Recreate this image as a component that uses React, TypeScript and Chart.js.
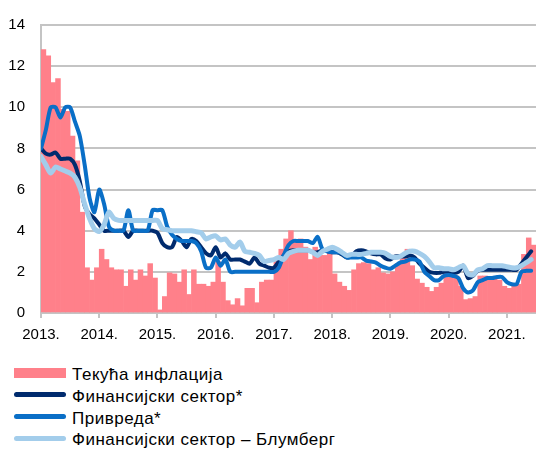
import React, { useEffect, useRef } from 'react';
import { Chart, registerables } from 'chart.js';

Chart.register(...registerables);

const yearLabels = ['2013.', '2014.', '2015.', '2016.', '2017.', '2018.', '2019.', '2020.', '2021.'];
const yTicks = [0, 2, 4, 6, 8, 10, 12, 14];

const seriesNames = [
  'Текућа инфлација',
  'Финансијски сектор*',
  'Привреда*',
  'Финансијски сектор – Блумберг',
];

// monthly, Jan 2013 – Jun 2021
const inflation = [
  12.8, 12.5, 11.2, 11.4, 9.9, 9.8, 8.6, 7.4, 4.9, 2.2, 1.6, 2.2,
  3.1, 2.6, 2.2, 2.1, 2.1, 1.3, 2.1, 1.6, 2.1, 1.8, 2.4, 1.7,
  0.15, 0.8, 1.95, 1.9, 1.5, 2.1, 0.9, 2.1, 1.4, 1.4, 1.3, 1.5,
  2.5, 1.5, 0.6, 0.4, 0.7, 0.35, 1.2, 1.2, 0.5, 1.5, 1.6, 1.6,
  2.6, 3.1, 3.6, 4.0, 3.5, 3.6, 3.2, 2.6, 3.2, 2.8, 2.8, 2.9,
  1.9, 1.5, 1.3, 1.1, 2.1, 2.4, 2.45, 2.4, 2.1, 2.2, 1.95, 1.9,
  2.0, 2.4, 2.8, 3.1, 2.3, 1.65, 1.45, 1.25, 1.05, 1.25, 1.45, 1.95,
  1.9, 1.8, 1.3, 0.65, 0.7, 0.8, 1.8, 1.8, 1.7, 1.75, 1.6, 1.3,
  1.2, 1.4, 1.4, 2.85, 3.65, 3.3,
];

const finSector = [
  8.0, 7.75, 7.7, 7.8, 7.5, 7.5, 7.5, 7.2, 6.4, 5.2, 4.8, 4.6,
  4.3, 4.0, 4.0, 4.0, 4.0, 4.0, 3.7, 4.0, 4.0, 4.0, 4.0, 4.0,
  3.9, 3.4, 3.2, 3.2, 3.7, 3.5, 3.2, 3.6, 3.5, 3.2, 2.9, 2.8,
  3.2, 2.7, 2.9, 2.6, 2.6, 2.6, 2.5, 2.4, 2.7, 2.4, 2.3, 2.2,
  2.2, 2.5, 2.8, 3.0, 3.05, 3.05, 3.05, 3.05, 2.95, 2.95, 3.05, 3.0,
  2.95, 2.95, 2.85, 2.7, 2.75, 3.0, 3.05, 3.0, 2.9, 2.85, 2.85, 2.65,
  2.6, 2.75, 2.75, 2.75, 2.8, 2.7, 2.4, 2.2, 2.0, 1.95, 1.95, 2.0,
  2.0, 1.95, 2.0, 2.3, 1.7, 1.8, 2.05, 2.1, 2.1, 2.1, 2.1, 2.1,
  2.1, 2.1, 2.1, 2.4, 2.7, 3.0,
];

const economy = [
  8.0, 8.9, 10.0, 10.0, 9.5, 10.0, 10.0, 9.3, 8.6, 7.2, 5.6, 4.9,
  6.0, 5.3, 4.2, 4.0, 4.0, 4.0, 5.0, 4.0, 4.0, 4.0, 4.0, 5.0,
  5.0, 5.0, 4.2, 3.8, 3.6, 3.5, 3.5, 3.5, 3.4, 3.0, 2.2, 2.2,
  2.7, 2.3, 2.6, 2.0, 2.0, 2.0, 2.0, 2.0, 2.0, 2.0, 2.0, 2.0,
  2.0, 2.2, 2.8, 3.3, 3.5, 3.5, 3.5, 3.5, 3.4, 3.7, 3.1, 3.0,
  2.95, 2.95, 2.9, 2.7, 2.7, 2.7, 2.7, 2.55, 2.5, 2.45, 2.3, 2.2,
  2.15, 2.3, 2.45, 2.5, 2.6, 2.6, 2.5, 2.0, 1.8, 1.6, 1.6, 1.8,
  1.85, 1.8, 1.7, 1.2, 1.0, 1.1, 1.5, 1.6, 1.7, 1.7, 1.75, 1.75,
  1.5, 1.4, 1.4, 2.0, 2.05, 2.05,
];

const bloomberg = [
  7.6, 7.2, 6.8, 7.1, 7.0, 6.9, 6.8, 6.6, 6.1, 5.3, 4.6, 4.1,
  3.96, 4.3, 4.9, 4.6, 4.5, 4.5, 4.5, 4.5, 4.5, 4.5, 4.5, 4.5,
  4.5, 4.1, 4.05, 4.0, 4.0, 4.0, 4.0, 4.0, 3.95, 3.9, 3.6, 3.7,
  3.75, 3.55, 3.6, 3.3, 3.2, 3.45, 3.0, 2.95, 2.9, 2.8, 2.5, 2.55,
  2.6, 2.7, 2.6, 2.9, 3.0, 3.05, 3.05, 3.05, 2.95, 2.8, 3.0, 3.1,
  3.2, 3.1, 2.95, 2.8, 2.85, 2.85, 2.85, 2.9, 2.95, 2.95, 2.95, 2.9,
  2.75, 2.7, 2.75, 2.9, 3.0, 3.0, 2.9, 2.75, 2.5, 2.2, 2.2, 2.15,
  2.15, 2.1, 2.2, 2.3, 1.9, 1.85, 2.1, 2.15, 2.3, 2.3, 2.3, 2.3,
  2.25, 2.2, 2.2, 2.3, 2.45, 2.6,
];

const PINK = '#FF808A';
const NAVY = '#002B6E';
const MID = '#0A6FC7';
const LIGHT = '#A3CDEB';
const GRID = '#C4C4C4';
const FONT = "'Liberation Sans', Arial, sans-serif";

const legendItems = [
  { name: seriesNames[0], color: PINK, h: 10, r: 0 },
  { name: seriesNames[1], color: NAVY, h: 5, r: 3 },
  { name: seriesNames[2], color: MID, h: 5, r: 3 },
  { name: seriesNames[3], color: LIGHT, h: 5, r: 3 },
];

export default function App() {
  const ref = useRef<HTMLCanvasElement>(null);

  useEffect(() => {
    const canvas = ref.current;
    if (!canvas) return;
    const pts = (arr: number[], off: number) => arr.map((v, i) => ({ x: i + off, y: v }));
    const lineDs = (label: string, arr: number[], color: string, width: number, order: number) => ({
      type: 'line' as const,
      label,
      data: pts(arr, 0),
      borderColor: color,
      backgroundColor: color,
      borderWidth: width,
      pointRadius: 0,
      tension: 0.25,
      borderJoinStyle: 'round' as const,
      borderCapStyle: 'round' as const,
      order,
    });
    const chart = new Chart(canvas, {
      type: 'line',
      data: {
        datasets: [
          {
            type: 'bar',
            label: seriesNames[0],
            data: pts(inflation, 0.5),
            backgroundColor: PINK,
            borderWidth: 0,
            barPercentage: 1,
            categoryPercentage: 1,
            order: 4,
          } as any,
          lineDs(seriesNames[1], finSector, NAVY, 4, 3),
          lineDs(seriesNames[2], economy, MID, 4, 2),
          lineDs(seriesNames[3], bloomberg, LIGHT, 5, 1),
        ],
      },
      options: {
        responsive: false,
        animation: false,
        layout: { padding: { top: 18, right: 0, left: 0, bottom: 0 } },
        plugins: { legend: { display: false }, tooltip: { enabled: false } },
        scales: {
          x: {
            type: 'linear',
            min: 0,
            max: inflation.length,
            offset: false,
            afterBuildTicks: (s: any) => {
              s.ticks = yearLabels.map((_, k) => ({ value: k * 12 }));
            },
            afterFit: (s: any) => {
              s.height = 32;
            },
            ticks: {
              autoSkip: false,
              maxRotation: 0,
              padding: 8,
              color: '#000',
              font: { family: FONT, size: 15 },
              callback: (v: any) => yearLabels[Math.round(Number(v) / 12)] ?? '',
            },
            grid: { drawOnChartArea: false, drawTicks: true, tickLength: 5, color: GRID, lineWidth: 2, offset: false },
            border: { display: true, color: GRID, width: 2 },
          },
          y: {
            min: 0,
            max: 14,
            afterBuildTicks: (s: any) => {
              s.ticks = yTicks.map((v) => ({ value: v }));
            },
            afterFit: (s: any) => {
              s.width = 41;
            },
            ticks: {
              padding: 16,
              color: '#000',
              font: { family: FONT, size: 15 },
            },
            grid: { color: GRID, lineWidth: 2, drawTicks: false },
            border: { display: true, color: GRID, width: 2 },
          },
        },
      },
    } as any);
    return () => chart.destroy();
  }, []);

  return (
    <div style={{ position: 'fixed', left: 0, top: 0, width: 536, height: 451, background: '#fff', overflow: 'hidden' }}>
      <canvas ref={ref} width={536} height={345} style={{ position: 'absolute', left: 0, top: 0, width: 536, height: 345, display: 'block' }} />
      {legendItems.map((it, k) => {
        const cy = 373 + 21.8 * k;
        return (
          <React.Fragment key={k}>
            <div
              style={{
                position: 'absolute',
                left: 14,
                top: cy - it.h / 2,
                width: 52,
                height: it.h,
                borderRadius: it.r,
                background: it.color,
              }}
            />
            <span
              style={{
                position: 'absolute',
                left: 72,
                top: cy + 2 - 11,
                fontFamily: FONT,
                fontSize: 17,
                letterSpacing: '0.5px',
                color: '#000',
                whiteSpace: 'nowrap',
                lineHeight: '22px',
              }}
            >
              {it.name}
            </span>
          </React.Fragment>
        );
      })}
    </div>
  );
}
